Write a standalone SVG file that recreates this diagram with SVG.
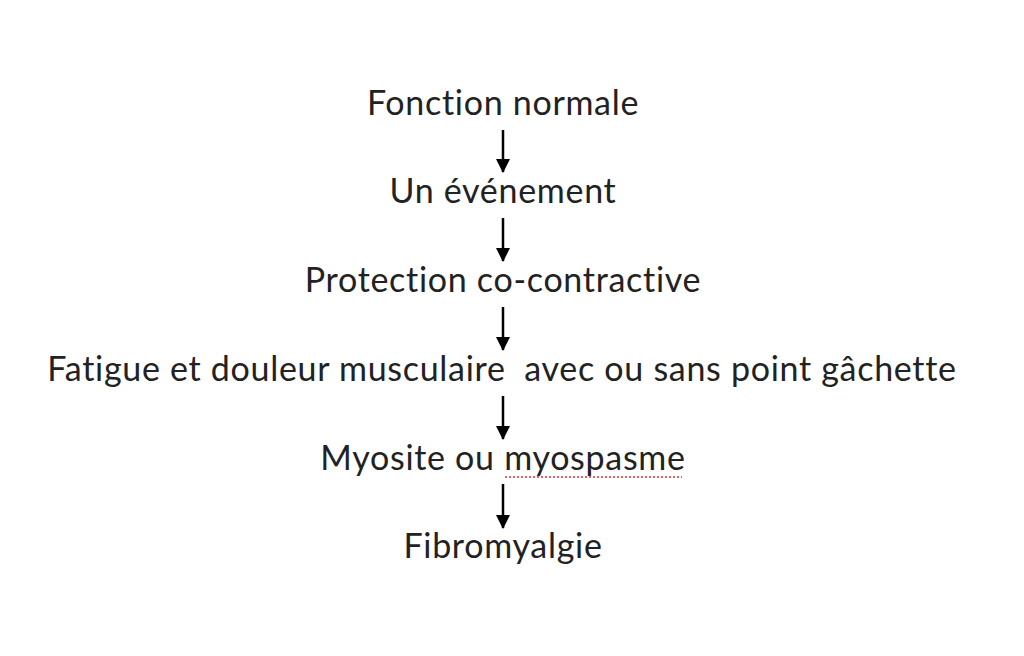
<svg xmlns="http://www.w3.org/2000/svg" width="1024" height="656" viewBox="0 0 1024 656">
<style>
text{font-family:Lato,"Open Sans",sans-serif;font-size:34px;letter-spacing:0.7px;fill:#222;text-anchor:middle}
.c line{stroke:#000;stroke-width:2.5}
</style>
<defs>
<marker id="h" viewBox="0 0 14 14" refX="13" refY="7" markerWidth="14" markerHeight="14" markerUnits="userSpaceOnUse" orient="auto"><path d="M0,0 L14,7 L0,14 z" fill="#000"/></marker></defs>
<rect width="1024" height="656" fill="#fff"/>
<g id="n1"><text x="503" y="115">Fonction normale</text></g>
<g id="n2"><text x="503" y="203">Un événement</text></g>
<g id="n3"><text x="503" y="292">Protection co-contractive</text></g>
<g id="n4"><text x="502" y="381" xml:space="preserve">Fatigue et douleur musculaire  avec ou sans point gâchette</text></g>
<g id="n5"><text x="503" y="470">Myosite ou myospasme</text><line x1="505" y1="477" x2="682" y2="477" stroke="#e03030" stroke-width="1.5" stroke-dasharray="2,2"/></g>
<g id="n6"><text x="503" y="558">Fibromyalgie</text></g>
<g class="c" id="connectors">
<line x1="503" y1="130" x2="503" y2="172" marker-end="url(#h)"/>
<line x1="503" y1="218" x2="503" y2="261" marker-end="url(#h)"/>
<line x1="503" y1="307" x2="503" y2="350" marker-end="url(#h)"/>
<line x1="503" y1="396" x2="503" y2="439" marker-end="url(#h)"/>
<line x1="503" y1="484" x2="503" y2="528" marker-end="url(#h)"/>
</g>
</svg>
